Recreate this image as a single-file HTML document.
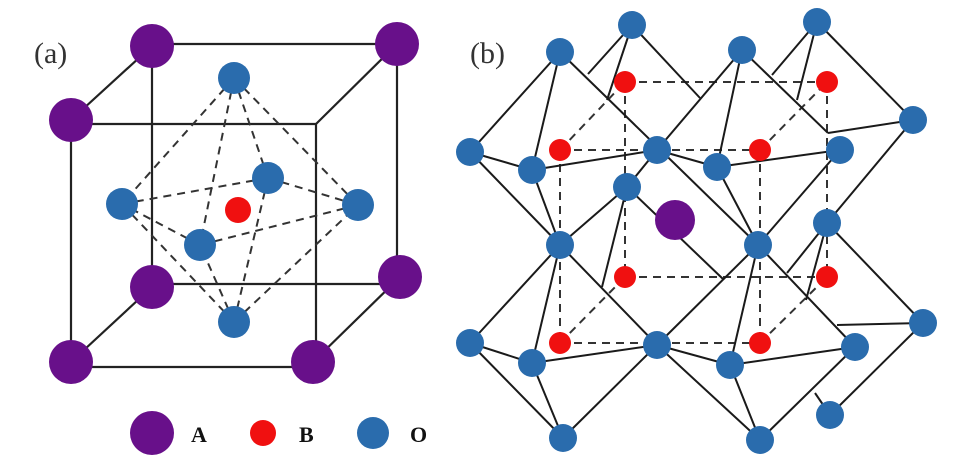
<!DOCTYPE html>
<html><head><meta charset="utf-8"><style>
html,body{margin:0;padding:0;background:#fff;}
svg{display:block;}
text{font-family:"Liberation Serif",serif;}
</style></head><body>
<svg width="970" height="473" viewBox="0 0 970 473" xmlns="http://www.w3.org/2000/svg">
<rect width="970" height="473" fill="#fff"/>
<!-- Panel a -->
<text x="34" y="63" font-size="30" fill="#333">(a)</text>
<g stroke="#222" stroke-width="2.2" fill="none">
<line x1="152" y1="44" x2="397" y2="44"/>
<line x1="152" y1="44" x2="152" y2="287"/>
<line x1="152" y1="284" x2="400" y2="284"/>
<line x1="397" y1="44" x2="397" y2="277"/>
<line x1="71" y1="124" x2="316" y2="124"/>
<line x1="71" y1="124" x2="71" y2="362"/>
<line x1="71" y1="367" x2="313" y2="367"/>
<line x1="316" y1="124" x2="316" y2="362"/>
<line x1="71" y1="120" x2="152" y2="46"/>
<line x1="316" y1="124" x2="397" y2="44"/>
<line x1="71" y1="362" x2="152" y2="287"/>
<line x1="313" y1="362" x2="400" y2="277"/>
</g>
<g stroke="#333" stroke-width="2" stroke-dasharray="8,6" fill="none">
<line x1="234" y1="78" x2="122" y2="204"/>
<line x1="234" y1="78" x2="358" y2="205"/>
<line x1="234" y1="78" x2="268" y2="178"/>
<line x1="234" y1="78" x2="200" y2="245"/>
<line x1="234" y1="322" x2="122" y2="204"/>
<line x1="234" y1="322" x2="358" y2="205"/>
<line x1="234" y1="322" x2="268" y2="178"/>
<line x1="234" y1="322" x2="200" y2="245"/>
<line x1="122" y1="204" x2="268" y2="178"/>
<line x1="268" y1="178" x2="358" y2="205"/>
<line x1="358" y1="205" x2="200" y2="245"/>
<line x1="200" y1="245" x2="122" y2="204"/>
</g>
<g fill="#2a6cad">
<circle cx="234" cy="78" r="16"/><circle cx="268" cy="178" r="16"/>
<circle cx="122" cy="204" r="16"/><circle cx="358" cy="205" r="16"/>
<circle cx="200" cy="245" r="16"/><circle cx="234" cy="322" r="16"/>
</g>
<circle cx="238" cy="210" r="13" fill="#f01010"/>
<g fill="#68108a">
<circle cx="152" cy="46" r="22"/><circle cx="397" cy="44" r="22"/>
<circle cx="71" cy="120" r="22"/><circle cx="152" cy="287" r="22"/>
<circle cx="400" cy="277" r="22"/><circle cx="71" cy="362" r="22"/>
<circle cx="313" cy="362" r="22"/>
</g>
<!-- legend -->
<circle cx="152" cy="433" r="22" fill="#68108a"/>
<text x="191" y="442" font-size="22" font-weight="bold" fill="#111">A</text>
<circle cx="263" cy="433" r="13" fill="#f01010"/>
<text x="299" y="442" font-size="22" font-weight="bold" fill="#111">B</text>
<circle cx="373" cy="433" r="16" fill="#2a6cad"/>
<text x="410" y="442" font-size="22" font-weight="bold" fill="#111">O</text>

<!-- Panel b -->
<text x="470" y="63" font-size="30" fill="#333">(b)</text>
<g stroke="#333" stroke-width="2" stroke-dasharray="8,6" fill="none">
<line x1="560" y1="150" x2="760" y2="150"/>
<line x1="625" y1="82" x2="827" y2="82"/>
<line x1="560" y1="343" x2="760" y2="343"/>
<line x1="625" y1="277" x2="827" y2="277"/>
<line x1="560" y1="150" x2="560" y2="343"/>
<line x1="760" y1="150" x2="760" y2="343"/>
<line x1="625" y1="82" x2="625" y2="277"/>
<line x1="827" y1="82" x2="827" y2="277"/>
<line x1="560" y1="150" x2="625" y2="82"/>
<line x1="760" y1="150" x2="827" y2="82"/>
<line x1="560" y1="343" x2="625" y2="277"/>
<line x1="760" y1="343" x2="827" y2="277"/>
</g>
<g stroke="#1a1a1a" stroke-width="2" fill="none">
<!-- top-left octahedron -->
<line x1="560" y1="52" x2="470" y2="152"/>
<line x1="560" y1="52" x2="532" y2="170"/>
<line x1="560" y1="52" x2="758" y2="245"/>
<line x1="470" y1="152" x2="532" y2="170"/>
<line x1="532" y1="170" x2="657" y2="150"/>
<line x1="470" y1="152" x2="560" y2="245"/>
<line x1="532" y1="170" x2="560" y2="245"/>
<line x1="657" y1="150" x2="627" y2="187"/>
<line x1="627" y1="187" x2="560" y2="245"/>
<line x1="632" y1="25" x2="588" y2="74"/>
<line x1="632" y1="25" x2="607" y2="100"/>
<line x1="632" y1="25" x2="700" y2="98"/>
<!-- top-right octahedron -->
<line x1="657" y1="150" x2="742" y2="50"/>
<line x1="742" y1="50" x2="717" y2="167"/>
<line x1="742" y1="50" x2="828" y2="133"/>
<line x1="657" y1="150" x2="717" y2="167"/>
<line x1="717" y1="167" x2="840" y2="150"/>
<line x1="717" y1="167" x2="758" y2="245"/>
<line x1="840" y1="150" x2="758" y2="245"/>
<line x1="817" y1="22" x2="772" y2="75"/>
<line x1="817" y1="22" x2="797" y2="100"/>
<line x1="817" y1="22" x2="913" y2="120"/>
<line x1="913" y1="120" x2="828" y2="133"/>
<line x1="913" y1="120" x2="827" y2="223"/>
<!-- centre -->
<line x1="627" y1="187" x2="602" y2="287"/>
<line x1="627" y1="187" x2="723" y2="279"/>
<line x1="758" y1="245" x2="855" y2="347"/>
<line x1="758" y1="245" x2="657" y2="345"/>
<line x1="827" y1="223" x2="787" y2="273"/>
<line x1="827" y1="223" x2="806" y2="300"/>
<line x1="827" y1="223" x2="923" y2="323"/>
<!-- bottom-left octahedron -->
<line x1="560" y1="245" x2="470" y2="343"/>
<line x1="560" y1="245" x2="532" y2="363"/>
<line x1="560" y1="245" x2="657" y2="345"/>
<line x1="470" y1="343" x2="532" y2="363"/>
<line x1="532" y1="363" x2="657" y2="345"/>
<line x1="470" y1="343" x2="563" y2="438"/>
<line x1="532" y1="363" x2="563" y2="438"/>
<line x1="657" y1="345" x2="563" y2="438"/>
<!-- bottom-right octahedron -->
<line x1="758" y1="245" x2="730" y2="365"/>
<line x1="657" y1="345" x2="730" y2="365"/>
<line x1="730" y1="365" x2="855" y2="347"/>
<line x1="657" y1="345" x2="760" y2="440"/>
<line x1="730" y1="365" x2="760" y2="440"/>
<line x1="855" y1="347" x2="760" y2="440"/>
<line x1="923" y1="323" x2="837" y2="325"/>
<line x1="923" y1="323" x2="830" y2="415"/>
<line x1="830" y1="415" x2="815" y2="393"/>
</g>
<g fill="#2a6cad">
<circle cx="560" cy="52" r="14"/><circle cx="632" cy="25" r="14"/>
<circle cx="742" cy="50" r="14"/><circle cx="817" cy="22" r="14"/>
<circle cx="470" cy="152" r="14"/><circle cx="532" cy="170" r="14"/>
<circle cx="657" cy="150" r="14"/><circle cx="717" cy="167" r="14"/>
<circle cx="840" cy="150" r="14"/><circle cx="913" cy="120" r="14"/>
<circle cx="627" cy="187" r="14"/><circle cx="827" cy="223" r="14"/>
<circle cx="560" cy="245" r="14"/><circle cx="758" cy="245" r="14"/>
<circle cx="470" cy="343" r="14"/><circle cx="532" cy="363" r="14"/>
<circle cx="657" cy="345" r="14"/><circle cx="730" cy="365" r="14"/>
<circle cx="855" cy="347" r="14"/><circle cx="923" cy="323" r="14"/>
<circle cx="830" cy="415" r="14"/><circle cx="563" cy="438" r="14"/>
<circle cx="760" cy="440" r="14"/>
</g>
<g fill="#f01010">
<circle cx="625" cy="82" r="11"/><circle cx="827" cy="82" r="11"/>
<circle cx="560" cy="150" r="11"/><circle cx="760" cy="150" r="11"/>
<circle cx="625" cy="277" r="11"/><circle cx="827" cy="277" r="11"/>
<circle cx="560" cy="343" r="11"/><circle cx="760" cy="343" r="11"/>
</g>
<circle cx="675" cy="220" r="20" fill="#68108a"/>
</svg>
</body></html>
